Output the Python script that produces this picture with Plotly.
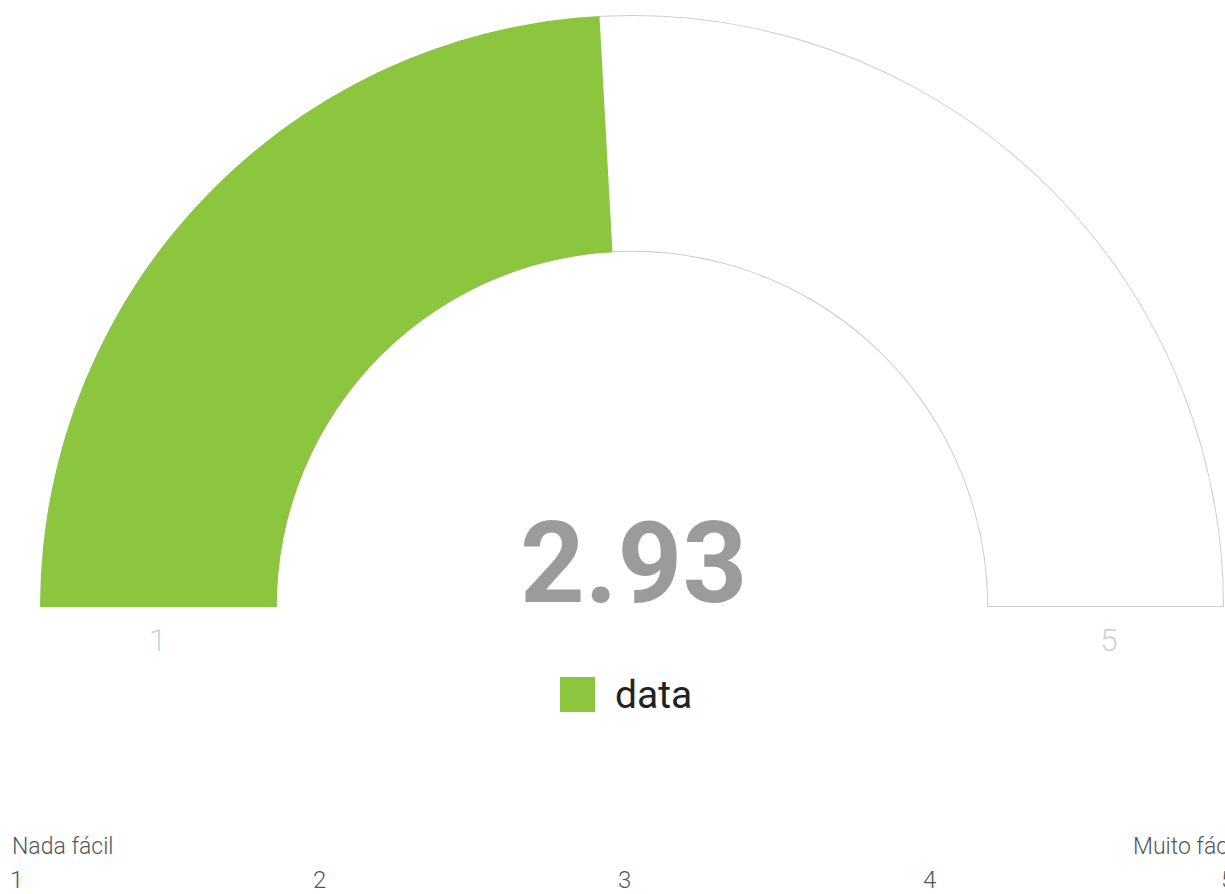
import plotly.graph_objects as go

# ---- data ----
gauge_value = 2.93
gauge_min = 1
gauge_max = 5
series_name = "data"
gauge_end_labels = ["1", "5"]
scale_labels = ["1", "2", "3", "4", "5"]
scale_end_labels = ["Nada fácil", "Muito fácil"]

W, H = 1225, 894
GREEN = "#8cc63f"
GREY_LINE = "#cccccc"


def px(x):
    return x / W


def py(y):
    return 1 - y / H


# angular scale: value -> degrees along the half circle
def to_deg(v):
    return (v - gauge_min) / (gauge_max - gauge_min) * 180.0


fig = go.Figure()

# background arc (full range)
fig.add_trace(go.Barpolar(
    theta=[to_deg((gauge_min + gauge_max) / 2)],
    width=[to_deg(gauge_max) - to_deg(gauge_min)],
    r=[1], base=0,
    marker=dict(color="white", line=dict(color=GREY_LINE, width=2)),
    showlegend=False, hoverinfo="skip",
))

# value arc
fig.add_trace(go.Barpolar(
    theta=[to_deg((gauge_min + gauge_value) / 2)],
    width=[to_deg(gauge_value) - to_deg(gauge_min)],
    r=[1], base=0,
    name=series_name,
    marker=dict(color=GREEN, line=dict(color=GREEN, width=0)),
    showlegend=False,
))

annotations = []
# big value
annotations.append(dict(
    x=px(633), y=py(563), xref="paper", yref="paper",
    text=f"<b>{gauge_value:.2f}</b>", showarrow=False,
    xanchor="center", yanchor="middle",
    font=dict(family="Roboto", size=113, color="#9b9b9b"),
))
# gauge min / max labels
for lab, xc in zip(gauge_end_labels, [158, 1109]):
    annotations.append(dict(
        x=px(xc), y=py(640), xref="paper", yref="paper",
        text=lab, showarrow=False, xanchor="center", yanchor="middle",
        font=dict(family="Roboto", size=32, color="#d2d2d2", weight=300),
    ))
# legend text
annotations.append(dict(
    x=px(613), y=py(695), xref="paper", yref="paper",
    text=series_name, showarrow=False, xanchor="left", yanchor="middle",
    font=dict(family="Roboto", size=39, color="#222222"),
))
# bottom scale ends
annotations.append(dict(
    x=px(10), y=py(846), xref="paper", yref="paper",
    text=scale_end_labels[0], showarrow=False, xanchor="left", yanchor="middle",
    font=dict(family="Roboto", size=23, color="#555555", weight=300),
))
annotations.append(dict(
    x=px(1131), y=py(846), xref="paper", yref="paper",
    text=scale_end_labels[1], showarrow=False, xanchor="left", yanchor="middle",
    font=dict(family="Roboto", size=23, color="#555555", weight=300),
))
# bottom scale numbers
scale_x = [8, 311, 616, 921, 1219]
for lab, xl in zip(scale_labels, scale_x):
    annotations.append(dict(
        x=px(xl), y=py(880), xref="paper", yref="paper",
        text=lab, showarrow=False, xanchor="left", yanchor="middle",
        font=dict(family="Roboto", size=24, color="#555555", weight=300),
    ))

shapes = [
    # legend swatch
    dict(type="rect", xref="paper", yref="paper",
         x0=px(560), x1=px(595), y0=py(712), y1=py(677),
         fillcolor=GREEN, line=dict(width=0)),
]

fig.update_layout(
    width=W, height=H,
    margin=dict(l=0, r=0, t=0, b=0),
    paper_bgcolor="white", plot_bgcolor="white",
    polar=dict(
        domain=dict(x=[px(40), px(1224)], y=[py(607), py(15)]),
        sector=[0, 180],
        hole=0.6,
        bgcolor="white",
        radialaxis=dict(visible=False, range=[0, 1]),
        angularaxis=dict(visible=False, direction="clockwise", rotation=180),
    ),
    annotations=annotations,
    shapes=shapes,
    showlegend=False,
)

fig.write_html(
    "out.html",
    config={"displayModeBar": False},
    post_script="document.body.style.margin='0';document.body.style.padding='0';"
                "document.body.style.overflow='hidden';",
)
